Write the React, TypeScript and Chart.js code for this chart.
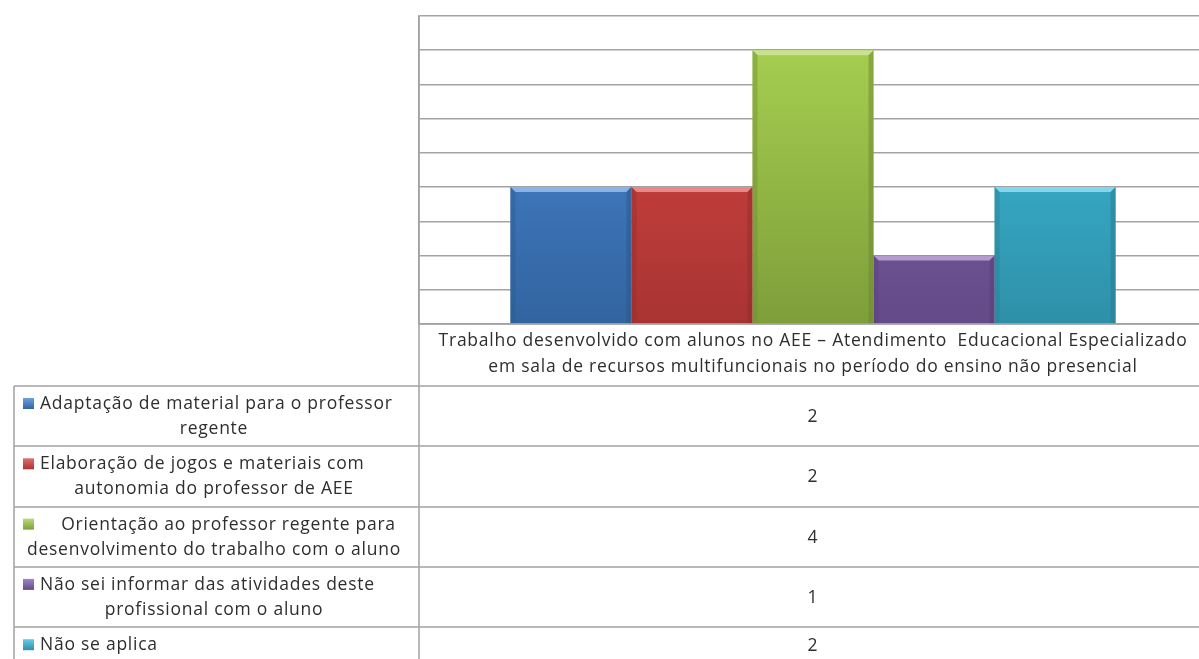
import React, { useEffect, useRef } from "react";
import { Chart, registerables } from "chart.js";

Chart.register(...registerables);

// ---- data ----
const categoryLines: string[] = [
  "Trabalho desenvolvido com alunos no AEE – Atendimento  Educacional Especializado",
  "em sala de recursos multifuncionais no período do ensino não presencial",
];
const categories: string[] = [categoryLines.join(" ")];

const seriesNames: string[] = [
  "Adaptação de material para o professor regente",
  "Elaboração de jogos e materiais com autonomia do professor de AEE",
  "Orientação ao professor regente para desenvolvimento do trabalho com o aluno",
  "Não sei informar das atividades deste profissional com o aluno",
  "Não se aplica",
];
const seriesLines: string[][] = [
  ["Adaptação de material para o professor", "regente"],
  ["Elaboração de jogos e materiais com", "autonomia do professor de AEE"],
  ["    Orientação ao professor regente para", "desenvolvimento do trabalho com o aluno"],
  ["Não sei informar das atividades deste", "profissional com o aluno"],
  ["Não se aplica"],
];
const seriesValues: number[] = [2, 2, 4, 1, 2];
const seriesTop: string[] = ["#4a8ad8", "#dc4846", "#aad352", "#8866b4", "#40c0e0"];
const seriesBottom: string[] = ["#3264a0", "#a83432", "#7e9e3a", "#644a88", "#2e90a8"];
const seriesKey: string[] = ["#3f79c2", "#c83e3c", "#98bf48", "#7759a0", "#38aacb"];
const yMin = 0;
const yMax = 4.5;
const yStep = 0.5;

const W = 1207;
const H = 659;
const PLOT_LEFT = 419;
const PLOT_TOP = 16;
const PLOT_BOTTOM = 324;
const HEADER_H = 62;
const ROW_H2 = 60.3;
const ROW_H1 = 36;
const TABLE_LEFT = 14;
const GRID = "#a3a3a3";
const TEXT = "#2e2e2e";
const FONT = "17.5px 'Open Sans'";
const SPACING = "0.75px";

function shade(hex: string, amt: number, alpha: number) {
  const n = parseInt(hex.slice(1), 16);
  let r = (n >> 16) & 255, g = (n >> 8) & 255, b = n & 255;
  if (amt >= 0) {
    r = r + (255 - r) * amt; g = g + (255 - g) * amt; b = b + (255 - b) * amt;
  } else {
    r = r * (1 + amt); g = g * (1 + amt); b = b * (1 + amt);
  }
  return `rgba(${Math.round(r)},${Math.round(g)},${Math.round(b)},${alpha})`;
}

const bevelPlugin = {
  id: "bevel",
  afterDatasetsDraw(chart: any) {
    const ctx = chart.ctx;
    chart.data.datasets.forEach((ds: any, di: number) => {
      const meta = chart.getDatasetMeta(di);
      meta.data.forEach((bar: any) => {
        const p = bar.getProps(["x", "y", "base", "width"], true);
        const l = p.x - p.width / 2;
        const r = p.x + p.width / 2;
        const t = p.y;
        const b = p.base;
        const bv = 5;
        ctx.save();
        ctx.beginPath();
        ctx.moveTo(l, t);
        ctx.lineTo(r, t);
        ctx.lineTo(r - bv, t + bv);
        ctx.lineTo(l + bv, t + bv);
        ctx.closePath();
        ctx.fillStyle = shade(seriesTop[di], 0.35, 1);
        ctx.fill();
        ctx.beginPath();
        ctx.moveTo(l, t);
        ctx.lineTo(l + bv, t + bv);
        ctx.lineTo(l + bv, b);
        ctx.lineTo(l, b);
        ctx.closePath();
        ctx.fillStyle = shade(seriesBottom[di], -0.1, 0.45);
        ctx.fill();
        ctx.beginPath();
        ctx.moveTo(r, t);
        ctx.lineTo(r - bv, t + bv);
        ctx.lineTo(r - bv, b);
        ctx.lineTo(r, b);
        ctx.closePath();
        ctx.fillStyle = shade(seriesBottom[di], -0.15, 0.5);
        ctx.fill();
        ctx.restore();
      });
    });
  },
};

const tablePlugin = {
  id: "dataTable",
  afterDraw(chart: any) {
    const ctx = chart.ctx;
    const area = chart.chartArea;
    const right = chart.width;
    const headerBottom = area.bottom + HEADER_H;
    const catCenter = chart.scales.x.getPixelForValue(0);
    const tops: number[] = [];
    let acc = headerBottom;
    seriesLines.forEach((lines) => {
      tops.push(acc);
      acc += lines.length > 1 ? ROW_H2 : ROW_H1;
    });
    ctx.save();
    ctx.strokeStyle = GRID;
    ctx.lineWidth = 1.5;
    ctx.beginPath();
    ctx.moveTo(area.left, area.bottom);
    ctx.lineTo(right, area.bottom);
    ctx.moveTo(area.left, area.top);
    ctx.lineTo(area.left, chart.height);
    ctx.moveTo(TABLE_LEFT, headerBottom);
    ctx.lineTo(TABLE_LEFT, chart.height);
    tops.forEach((t) => {
      const y = Math.round(t);
      ctx.moveTo(TABLE_LEFT, y);
      ctx.lineTo(right, y);
    });
    ctx.moveTo(TABLE_LEFT, Math.round(acc));
    ctx.lineTo(right, Math.round(acc));
    ctx.stroke();

    ctx.fillStyle = TEXT;
    ctx.font = FONT;
    (ctx as any).letterSpacing = SPACING;
    ctx.textBaseline = "middle";
    ctx.textAlign = "center";
    categoryLines.forEach((ln, i) => {
      ctx.fillText(ln, catCenter, area.bottom + 17 + i * 26);
    });
    seriesLines.forEach((lines, i) => {
      const top = tops[i];
      const h = lines.length > 1 ? ROW_H2 : ROW_H1;
      const y0 = top + 18;
      const ky = y0 - 6;
      const g = ctx.createLinearGradient(0, ky, 0, ky + 11);
      g.addColorStop(0, shade(seriesTop[i], 0.2, 1));
      g.addColorStop(1, seriesBottom[i]);
      ctx.fillStyle = g;
      ctx.fillRect(23, ky, 11, 11);
      ctx.fillStyle = TEXT;
      ctx.textAlign = "left";
      ctx.fillText(lines[0], 40, y0);
      ctx.textAlign = "center";
      for (let k = 1; k < lines.length; k++) {
        ctx.fillText(lines[k], 214, y0 + 25 * k);
      }
      ctx.fillText(String(seriesValues[i]), catCenter, top + h / 2 + 1);
    });
    ctx.restore();
  },
};

export default function App() {
  const ref = useRef<HTMLCanvasElement | null>(null);
  useEffect(() => {
    if (!ref.current) return;
    const chart = new Chart(ref.current, {
      type: "bar",
      data: {
        labels: categories,
        datasets: seriesNames.map((name, i) => ({
          label: name,
          data: [seriesValues[i]],
          borderWidth: 0,
          backgroundColor: (c: any) => {
            const area = c.chart.chartArea;
            if (!area) return seriesKey[i];
            const g = c.chart.ctx.createLinearGradient(0, area.top, 0, area.bottom);
            g.addColorStop(0, seriesTop[i]);
            g.addColorStop(1, seriesBottom[i]);
            return g;
          },
          categoryPercentage: 0.768,
          barPercentage: 1.0,
        })),
      },
      options: {
        responsive: false,
        animation: false,
        devicePixelRatio: 1,
        layout: {
          padding: { left: PLOT_LEFT, top: PLOT_TOP, bottom: H - PLOT_BOTTOM, right: 0 },
        },
        plugins: {
          legend: { display: false },
          tooltip: { enabled: false },
          title: { display: false },
        },
        scales: {
          x: { display: false },
          y: {
            min: yMin,
            max: yMax,
            ticks: { display: false, stepSize: yStep },
            grid: { color: GRID, lineWidth: 1.5, drawTicks: false },
            border: { display: true, color: GRID, width: 1.5 },
            afterFit: (s: any) => {
              s.width = 0;
            },
          },
        },
      },
      plugins: [bevelPlugin, tablePlugin],
    });
    return () => chart.destroy();
  }, []);

  return (
    <div
      style={{
        position: "fixed",
        left: 0,
        top: 0,
        width: 1199,
        height: 659,
        overflow: "hidden",
        background: "#ffffff",
      }}
    >
      <canvas ref={ref} width={W} height={H} style={{ width: W, height: H, display: "block" }} />
    </div>
  );
}
